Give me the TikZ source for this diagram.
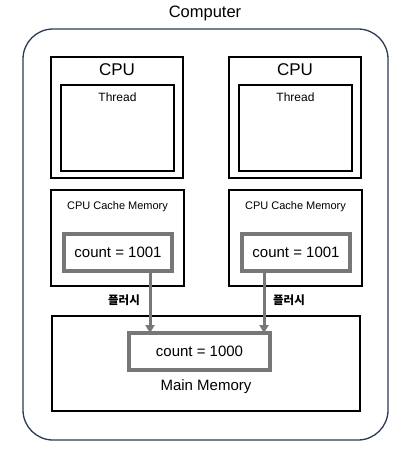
\documentclass[tikz,border=0pt]{standalone}
\usepackage{fontspec}
\setmainfont{Liberation Sans}
\newfontfamily\krfont{Noto Sans CJK KR}
\usepackage{xcolor}
\usetikzlibrary{arrows.meta, positioning}

\definecolor{framenavy}{HTML}{2B3A55}
\definecolor{flushgray}{HTML}{777777}

\tikzset{
  sized/.style 2 args={minimum width=#1, minimum height=#2, inner sep=0pt, outer sep=0pt},
  unit/.style={draw, line width=1.1pt},
  thread/.style={draw, line width=2pt},
  valbox/.style={draw=flushgray, line width=3.5pt},
  flush/.style={draw=flushgray, line width=3pt, -{Triangle[width=9pt,length=8pt]}},
  flushlbl/.style={font=\krfont\bfseries\fontsize{11.5}{11.5}\selectfont}
}

\begin{document}
\begin{tikzpicture}[x=1pt, y=-1pt]
    \useasboundingbox (0,0) rectangle (401,452);

    % computer frame
    \node[font=\fontsize{16.5}{16.5}\selectfont] (title) at (205,13) {Computer};
    \node[draw=framenavy, line width=1.3pt, rounded corners=30pt, sized={365pt}{411pt}] (computer) at (205.5,234.5) {};

    % main memory
    \node[unit, sized={308pt}{95pt}] (mem) at (206,363.5) {};
    \node[valbox, sized={141pt}{37pt}, font=\fontsize{15}{15}\selectfont] (mc) at (199.5,351.5) {count = 1000};
    \node[font=\fontsize{15}{15}\selectfont] (memlbl) at (206,387) {Main Memory};

    % two cpus with their caches
    \foreach \i/\x/\ax/\lx in {
        1/117/150/124,
        2/295/264/289
        }{
        \node[unit, sized={132pt}{121pt}] (cpu\i) at (\x,117.5) {};
        \node[font=\fontsize{17}{17}\selectfont] (cpulbl\i) at ([yshift=-13pt]cpu\i.north) {CPU};
        \node[thread, sized={113pt}{86pt}] (thread\i) at (\x+0.5,128) {};
        \node[font=\fontsize{12}{12}\selectfont] (threadlbl\i) at ([yshift=-12pt]thread\i.north) {Thread};

        \node[unit, sized={133pt}{96pt}] (cache\i) at (\x+0.5,238) {};
        \node[font=\fontsize{11}{11}\selectfont] (cachelbl\i) at ([yshift=-17pt]cache\i.north) {CPU Cache Memory};
        \node[valbox, sized={108pt}{37pt}, font=\fontsize{15}{15}\selectfont] (count\i) at (\x+1,252.5) {count = 1001};

        \coordinate (tap\i) at (\ax,0);
        \draw[flush] (count\i.south -| tap\i) -- (mc.north -| tap\i);
        \node[flushlbl] (flbl\i) at (\lx,300) {플러시};
    }
\end{tikzpicture}
\end{document}
